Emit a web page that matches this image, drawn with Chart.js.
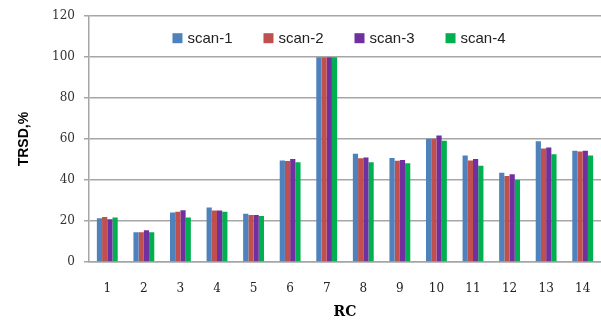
<!DOCTYPE html>
<html>
<head>
<meta charset="utf-8">
<script src="https://cdn.jsdelivr.net/npm/chart.js@4"></script>
<style>
  html, body { margin: 0; padding: 0; background: #fff; }
  #wrap { width: 601px; height: 321px; }
</style>
</head>
<body>
<div id="wrap"><canvas id="rcChart" width="601" height="321"></canvas></div>
<script>
// RC numbers along the x axis
const rcLabels = ['1', '2', '3', '4', '5', '6', '7', '8', '9', '10', '11', '12', '13', '14'];
// TRSD,% per scan
const scan1 = [21.4, 14.5, 24.2, 26.6, 23.5, 49.5, 100, 52.9, 50.8, 60.2, 52.0, 43.6, 59.0, 54.3];
const scan2 = [22.0, 14.5, 24.5, 25.1, 23.0, 49.3, 100, 50.6, 49.4, 60.2, 49.5, 42.0, 55.4, 53.9];
const scan3 = [20.9, 15.5, 25.3, 25.1, 22.9, 50.3, 100, 51.0, 49.8, 61.8, 50.3, 42.8, 55.9, 54.3];
const scan4 = [21.7, 14.5, 21.7, 24.5, 22.4, 48.7, 100, 48.7, 48.2, 59.2, 47.0, 40.0, 52.6, 52.0];
const yTicks = [0, 20, 40, 60, 80, 100, 120];

const gridGray = '#a6a6a6';

// legend sits inside the plot, like the excel one
const innerLegend = {
    id: 'innerLegend',
    afterDraw(chart) {
        const c = chart.ctx;
        const area = chart.chartArea;
        const box = 10, gap = 5, space = 31;
        c.save();
        c.font = '15px "Liberation Sans"';
        c.textBaseline = 'middle';
        const items = chart.data.datasets.map(ds => ({
            text: ds.label,
            color: ds.backgroundColor,
            w: box + gap + c.measureText(ds.label).width
        }));
        const total = items.reduce((s, it) => s + it.w, 0) + space * (items.length - 1);
        let x = (area.left + area.right) / 2 - total / 2 - 6;
        const y = area.top + 22;
        items.forEach(it => {
            c.fillStyle = it.color;
            c.fillRect(x, y - box / 2, box, box);
            c.fillStyle = '#222';
            c.fillText(it.text, x + box + gap, y + 1);
            x += it.w + space;
        });
        c.restore();
    }
};

const ctx = document.getElementById('rcChart');
const rcChart = new Chart(ctx, {
    type: 'bar',
    data: {
        labels: rcLabels,
        datasets: [
            { label: 'scan-1', data: scan1, backgroundColor: '#4f81bd' },
            { label: 'scan-2', data: scan2, backgroundColor: '#c0504d' },
            { label: 'scan-3', data: scan3, backgroundColor: '#7030a0' },
            { label: 'scan-4', data: scan4, backgroundColor: '#00b050' }
        ]
    },
    plugins: [innerLegend],
    options: {
        responsive: false,
        animation: false,
        layout: {
            padding: { left: 16, right: -3, top: 13, bottom: 0 }
        },
        datasets: {
            bar: {
                categoryPercentage: 0.57,
                barPercentage: 1.0,
                borderWidth: 0
            }
        },
        scales: {
            x: {
                grid: { display: false },
                border: { display: true, color: gridGray, width: 1.5 },
                ticks: {
                    color: '#222',
                    padding: 12,
                    font: { family: 'DejaVu Serif', size: 12 }
                },
                title: {
                    display: true,
                    text: 'RC',
                    color: '#000',
                    padding: { top: 0, bottom: 2 },
                    font: { family: 'DejaVu Serif', size: 14, weight: 'bold', lineHeight: 1 }
                },
                afterFit: function (scale) {
                    scale.height = 59;
                    scale.paddingLeft = 0;
                    scale.paddingRight = 0;
                }
            },
            y: {
                min: 0,
                max: 120,
                afterBuildTicks: function (scale) {
                    scale.ticks = yTicks.map(v => ({ value: v }));
                },
                grid: {
                    color: gridGray,
                    lineWidth: 1.5,
                    tickLength: 5,
                    drawTicks: true
                },
                border: { display: true, color: gridGray, width: 1.5 },
                ticks: {
                    color: '#333',
                    padding: 9,
                    font: { family: 'DejaVu Serif', size: 12 }
                },
                title: {
                    display: true,
                    text: 'TRSD,%',
                    color: '#000',
                    padding: { top: 0, bottom: 0 },
                    font: { family: 'Liberation Sans', size: 14, weight: 'bold' }
                },
                afterFit: function (scale) { scale.width = 73; }
            }
        },
        plugins: {
            legend: { display: false },
            title: { display: false },
            tooltip: { enabled: false }
        }
    }
});
</script>
</body>
</html>
